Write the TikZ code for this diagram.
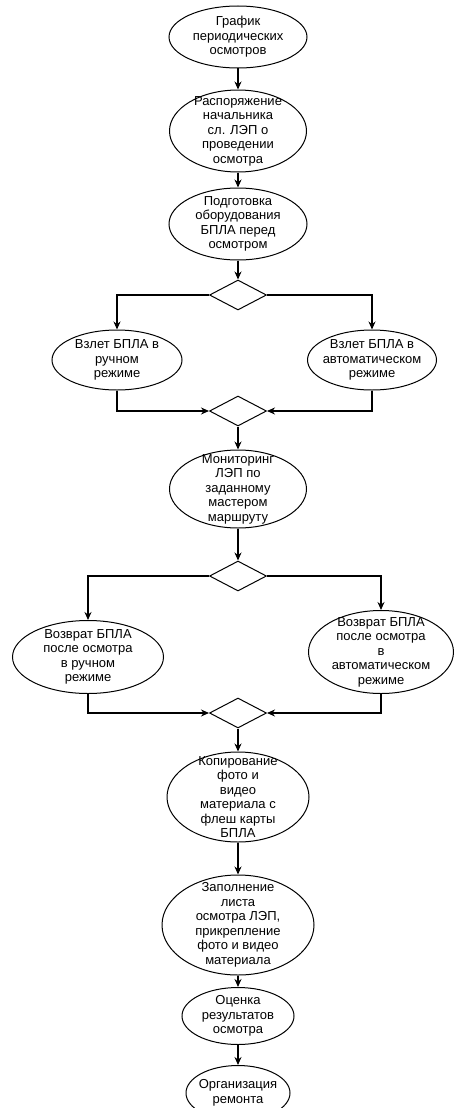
\documentclass[tikz,border=0pt]{standalone}
\usepackage{fontspec}
\setmainfont{Liberation Sans}
\usetikzlibrary{shapes.geometric,arrows.meta}

\begin{document}
\begin{tikzpicture}[x=1pt,y=-1pt,
    oval/.style={ellipse, draw, line width=1pt, inner sep=0pt},
    txt/.style={align=center, font=\fontsize{13}{14.5}\selectfont},
    gate/.style={diamond, draw, line width=1pt, minimum width=57pt, minimum height=30pt, inner sep=0pt},
    flow/.style={-{Stealth[length=8pt,width=7pt]}, line width=1.3pt}]
  \useasboundingbox (0,0) rectangle (454,1108);
  % main column
  \node[oval, minimum width=138pt, minimum height=62pt, label={[txt]center:{График\\периодических\\осмотров}}] (graf) at (238,37) {};
  \node[oval, minimum width=137pt, minimum height=82pt, label={[txt]center:{Распоряжение\\начальника\\сл. ЛЭП о\\проведении\\осмотра}}] (rasp) at (238,131) {};
  \node[oval, minimum width=138pt, minimum height=72pt, label={[txt]center:{Подготовка\\оборудования\\БПЛА перед\\осмотром}}] (podg) at (238,224) {};
  \node[gate] (d1) at (238,295) {};
  % take-off
  \node[oval, minimum width=130pt, minimum height=60pt, label={[txt]center:{Взлет БПЛА в\\ручном\\режиме}}] (vzr) at (117,360) {};
  \node[oval, minimum width=129pt, minimum height=60pt, label={[txt]center:{Взлет БПЛА в\\автоматическом\\режиме}}] (vza) at (372,360) {};
  \node[gate] (d2) at (238,411) {};
  \node[oval, minimum width=137pt, minimum height=78pt, label={[txt]center:{Мониторинг\\ЛЭП по\\заданному\\мастером\\маршруту}}] (mon) at (238,489) {};
  \node[gate] (d3) at (238,576) {};
  % return
  \node[oval, minimum width=151pt, minimum height=73pt, label={[txt]center:{Возврат БПЛА\\после осмотра\\в ручном\\режиме}}] (vozr) at (88,657) {};
  \node[oval, minimum width=145pt, minimum height=83pt, label={[txt]center:{Возврат БПЛА\\после осмотра\\в\\автоматическом\\режиме}}] (voza) at (381,652) {};
  \node[gate] (d4) at (238,713) {};
  \node[oval, minimum width=142pt, minimum height=90pt, label={[txt]center:{Копирование\\фото и\\видео\\материала с\\флеш карты\\БПЛА}}] (kop) at (238,797) {};
  \node[oval, minimum width=152pt, minimum height=100pt, label={[txt]center:{Заполнение\\листа\\осмотра ЛЭП,\\прикрепление\\фото и видео\\материала}}] (zap) at (238,925) {};
  \node[oval, minimum width=112pt, minimum height=57pt, label={[txt]center:{Оценка\\результатов\\осмотра}}] (ocen) at (238,1016) {};
  \node[oval, minimum width=104pt, minimum height=55pt, label={[txt]center:{Организация\\ремонта}}] (org) at (238,1093) {};
  % arrows
  \draw[flow] (graf.south) -- (rasp.north);
  \draw[flow] (rasp.south) -- (podg.north);
  \draw[flow] (podg.south) -- (d1.north);
  \draw[flow] (d1.west) -| (vzr.north);
  \draw[flow] (d1.east) -| (vza.north);
  \draw[flow] (vzr.south) |- (d2.west);
  \draw[flow] (vza.south) |- (d2.east);
  \draw[flow] (d2.south) -- (mon.north);
  \draw[flow] (mon.south) -- (d3.north);
  \draw[flow] (d3.west) -| (vozr.north);
  \draw[flow] (d3.east) -| (voza.north);
  \draw[flow] (vozr.south) |- (d4.west);
  \draw[flow] (voza.south) |- (d4.east);
  \draw[flow] (d4.south) -- (kop.north);
  \draw[flow] (kop.south) -- (zap.north);
  \draw[flow] (zap.south) -- (ocen.north);
  \draw[flow] (ocen.south) -- (org.north);
\end{tikzpicture}
\end{document}
